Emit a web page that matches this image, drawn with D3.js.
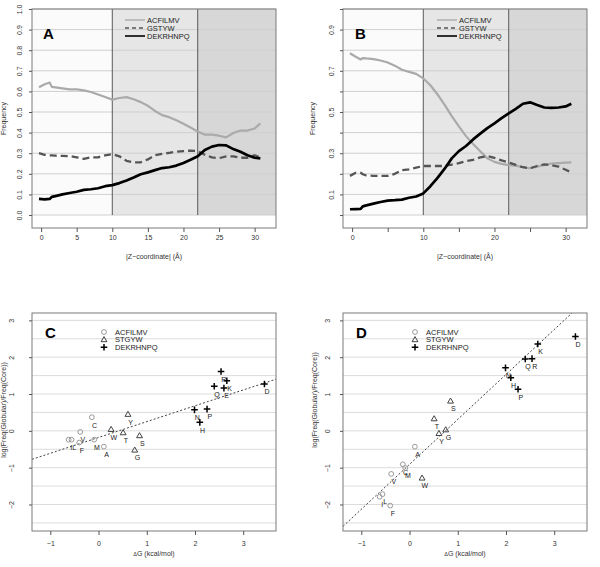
<!DOCTYPE html>
<html><head><meta charset="utf-8">
<script src="https://cdn.jsdelivr.net/npm/d3@7"></script>
<style>
body{margin:0;background:#fff;}
svg{display:block;font-family:"Liberation Sans",Arial,sans-serif;}
</style></head>
<body><svg id="c" width="600" height="567"></svg>
<script>
// ---------- DATA ----------
const zGrid = [-0.3,0.5,1.2,1.5,2,3,4,5,6,7,8,9,10,11,12,13,14,15,16,17,18,19,20,21,22,23,24,25,26,27,28,29,30,30.8];
const seriesNames = ["ACFILMV","GSTYW","DEKRHNPQ"];
const aACFILMV = [0.62,0.635,0.643,0.622,0.62,0.615,0.61,0.61,0.605,0.597,0.585,0.573,0.56,0.568,0.572,0.562,0.548,0.53,0.505,0.485,0.475,0.46,0.443,0.425,0.405,0.39,0.39,0.385,0.377,0.398,0.41,0.41,0.42,0.445];
const aGSTYW   = [0.30,0.292,0.29,0.29,0.288,0.287,0.286,0.28,0.273,0.28,0.28,0.29,0.296,0.285,0.263,0.256,0.256,0.27,0.29,0.297,0.302,0.307,0.31,0.313,0.31,0.293,0.28,0.276,0.285,0.285,0.278,0.278,0.29,0.28];
const aDEKRHNPQ= [0.078,0.076,0.078,0.088,0.092,0.1,0.107,0.113,0.122,0.125,0.13,0.14,0.145,0.155,0.168,0.182,0.198,0.207,0.218,0.228,0.232,0.24,0.253,0.268,0.285,0.316,0.332,0.34,0.338,0.32,0.307,0.29,0.278,0.275];
const bACFILMV = [0.785,0.768,0.755,0.762,0.76,0.757,0.75,0.74,0.725,0.705,0.695,0.685,0.663,0.63,0.585,0.535,0.48,0.43,0.383,0.345,0.31,0.275,0.258,0.248,0.242,0.24,0.232,0.227,0.235,0.243,0.25,0.252,0.254,0.256];
const bGSTYW   = [0.19,0.205,0.205,0.198,0.192,0.19,0.19,0.19,0.2,0.218,0.222,0.23,0.238,0.238,0.238,0.238,0.245,0.252,0.262,0.268,0.28,0.286,0.277,0.265,0.255,0.243,0.232,0.227,0.238,0.246,0.242,0.235,0.22,0.207];
const bDEKRHNPQ= [0.028,0.029,0.03,0.042,0.047,0.055,0.063,0.07,0.072,0.075,0.084,0.09,0.105,0.14,0.18,0.225,0.275,0.31,0.335,0.367,0.395,0.422,0.445,0.47,0.493,0.515,0.54,0.547,0.534,0.522,0.52,0.522,0.527,0.54];
const zoneBounds = [10,22];

const residues = ["A","C","F","I","L","M","V","G","S","T","W","Y","D","E","K","R","H","N","P","Q"];
const groups   = ["ACFILMV","ACFILMV","ACFILMV","ACFILMV","ACFILMV","ACFILMV","ACFILMV","STGYW","STGYW","STGYW","STGYW","STGYW","DEKRHNPQ","DEKRHNPQ","DEKRHNPQ","DEKRHNPQ","DEKRHNPQ","DEKRHNPQ","DEKRHNPQ","DEKRHNPQ"];
const deltaG   = [0.11,-0.14,-0.40,-0.62,-0.56,-0.09,-0.38,0.75,0.85,0.51,0.26,0.61,3.44,2.60,2.66,2.54,2.10,1.99,2.25,2.40];
const cLogRatio= [-0.43,0.37,-0.32,-0.24,-0.24,-0.24,-0.03,-0.52,-0.13,-0.05,0.04,0.45,1.27,1.16,1.36,1.61,0.23,0.57,0.59,1.21];
const dLogRatio= [-0.43,-0.91,-2.03,-1.79,-1.72,-1.01,-1.17,0.03,0.81,0.33,-1.28,-0.07,2.56,null,2.36,1.96,1.44,1.71,1.13,1.95];
const cFit = [-0.18,0.43];   // intercept, slope
const dFit = [-0.91,1.22];
const scatterLegend = ["ACFILMV","STGYW","DEKRHNPQ"];

// ---------- DRAW ----------
const svg = d3.select("#c");
const FONT = 7;
const boxStroke = "#7a7a7a";

function rotYLabels(axG, off){
  axG.selectAll(".tick text")
    .attr("x",0).attr("y",0).attr("dy","0.35em")
    .attr("text-anchor","middle")
    .attr("transform",`translate(${off},0) rotate(-90)`);
}
function styleAxis(axG){
  axG.select(".domain").remove();
  axG.selectAll(".tick line").attr("stroke","#555");
  axG.selectAll(".tick text").attr("fill","#333").style("font-size",FONT+"px");
}

function linePanel(opt){
  const {L,R,T,B,series,label,yLabelTicks,xLabelTicks} = opt;
  const x = d3.scaleLinear().domain([-1.28,33.0]).range([L,R]);
  const y = d3.scaleLinear().domain([-0.063,1.0]).range([B,T]);
  const g = svg.append("g");
  const bands = [[x.domain()[0],zoneBounds[0],"#fbfbfb"],[zoneBounds[0],zoneBounds[1],"#e6e6e6"],[zoneBounds[1],x.domain()[1],"#d7d7d7"]];
  g.selectAll("rect.band").data(bands).join("rect")
    .attr("x",d=>x(d[0])).attr("width",d=>x(d[1])-x(d[0]))
    .attr("y",y(1)).attr("height",y(0)-y(1)).attr("fill",d=>d[2]);
  const yt = d3.range(0,11).map(i=>i/10);
  g.selectAll("line.grid").data(yt).join("line")
    .attr("x1",L).attr("x2",R).attr("y1",d=>y(d)).attr("y2",d=>y(d))
    .attr("stroke","#cfcfcf").attr("stroke-width",1);
  g.selectAll("line.zone").data(zoneBounds).join("line")
    .attr("x1",d=>x(d)).attr("x2",d=>x(d)).attr("y1",y(1)).attr("y2",y(0))
    .attr("stroke","#5a5a5a").attr("stroke-width",1);
  const styles = [
    {c:"#aaaaaa",w:2.2,d:null},
    {c:"#555555",w:2.3,d:"7,4"},
    {c:"#000000",w:2.7,d:null}];
  const ln = d3.line().x((d,i)=>x(zGrid[i])).y(d=>y(d));
  series.forEach((s,k)=>{
    g.append("path").attr("d",ln(s)).attr("fill","none")
      .attr("stroke",styles[k].c).attr("stroke-width",styles[k].w)
      .attr("stroke-dasharray",styles[k].d).attr("stroke-linejoin","round");
  });
  g.append("rect").attr("x",L).attr("y",T).attr("width",R-L).attr("height",B-T)
    .attr("fill","none").attr("stroke",boxStroke);
  const ax = g.append("g").attr("transform",`translate(0,${B})`)
    .call(d3.axisBottom(x).tickValues(d3.range(0,31,5)).tickSize(4).tickPadding(3)
      .tickFormat(d=>xLabelTicks.includes(d)?d:""));
  styleAxis(ax);
  const ay = g.append("g").attr("transform",`translate(${L},0)`)
    .call(d3.axisLeft(y).tickValues(yt).tickSize(3)
      .tickFormat(d=>yLabelTicks.some(v=>Math.abs(v-d)<1e-9)?d3.format(".1f")(d):""));
  styleAxis(ay); rotYLabels(ay,opt.yOff);
  g.append("text").attr("x",(L+R)/2).attr("y",B+31).attr("text-anchor","middle")
    .style("font-size",FONT+"px").attr("fill","#333").text("|Z\u2212coordinate| (\u00C5)");
  g.append("text").attr("transform",`translate(${opt.yTitleX},${(T+B)/2}) rotate(-90)`)
    .attr("text-anchor","middle").attr("dy","0.35em").style("font-size",FONT+"px").attr("fill","#333").text("Frequency");
  g.append("text").attr("x",opt.letterX).attr("y",T+30).attr("font-weight","bold")
    .style("font-size","15px").text(label);
  const lg = g.append("g").attr("transform",`translate(${opt.legX},20)`);
  seriesNames.forEach((n,k)=>{
    lg.append("line").attr("x1",0).attr("x2",20).attr("y1",k*8).attr("y2",k*8)
      .attr("stroke",styles[k].c).attr("stroke-width",k==2?1.6:1.4).attr("stroke-dasharray",styles[k].d?"4,3":null);
    lg.append("text").attr("x",22).attr("y",k*8).attr("dy","0.35em")
      .style("font-size","7.5px").attr("fill","#222").text(n);
  });
}

function symbol(g,grp,cx,cy){
  if(grp==="ACFILMV"){
    g.append("circle").attr("cx",cx).attr("cy",cy).attr("r",2.4).attr("fill","none").attr("stroke","#9a9a9a").attr("stroke-width",1);
  } else if(grp==="STGYW"){
    g.append("path").attr("d",d3.symbol(d3.symbolTriangle,15)()).attr("transform",`translate(${cx},${cy+0.4})`)
      .attr("fill","none").attr("stroke","#444").attr("stroke-width",1);
  } else {
    g.append("path").attr("d",`M${cx-3.3},${cy}H${cx+3.3}M${cx},${cy-3.3}V${cy+3.3}`)
      .attr("stroke","#000").attr("stroke-width",1.5);
  }
}

function scatterPanel(opt){
  const {L,R,T,B,vals,fit,label} = opt;
  const x = d3.scaleLinear().domain([-1.38,3.68]).range([L,R]);
  const y = d3.scaleLinear().domain([-2.72,3.2]).range([B,T]);
  const g = svg.append("g");
  const clipId = "clip"+label;
  svg.append("clipPath").attr("id",clipId).append("rect").attr("x",L).attr("y",T).attr("width",R-L).attr("height",B-T);
  const gl = d3.range(-2.5,3.01,0.5);
  g.selectAll("line.grid").data(gl).join("line")
    .attr("x1",L).attr("x2",R).attr("y1",d=>y(d)).attr("y2",d=>y(d))
    .attr("stroke","#dcdcdc").attr("stroke-width",1);
  const xd = x.domain();
  g.append("line").attr("clip-path",`url(#${clipId})`)
    .attr("x1",x(xd[0])).attr("y1",y(fit[0]+fit[1]*xd[0]))
    .attr("x2",x(xd[1])).attr("y2",y(fit[0]+fit[1]*xd[1]))
    .attr("stroke","#444").attr("stroke-width",1).attr("stroke-dasharray","2,2");
  const pg = g.append("g");
  residues.forEach((r,i)=>{
    if(vals[i]===null) return;
    const cx=x(deltaG[i]), cy=y(vals[i]);
    symbol(pg,groups[i],cx,cy);
    pg.append("text").attr("x",cx+2.7).attr("y",cy+10.3).attr("text-anchor","middle")
      .style("font-size","7px").attr("fill","#222").text(r);
  });
  g.append("rect").attr("x",L).attr("y",T).attr("width",R-L).attr("height",B-T)
    .attr("fill","none").attr("stroke",boxStroke);
  const ax = g.append("g").attr("transform",`translate(0,${B})`)
    .call(d3.axisBottom(x).tickValues([-1,0,1,2,3]).tickSize(4).tickPadding(6)
      .tickFormat(d=>d<0?"\u2212"+Math.abs(d):d));
  styleAxis(ax);
  const ay = g.append("g").attr("transform",`translate(${L},0)`)
    .call(d3.axisLeft(y).tickValues([-2,-1,0,1,2,3]).tickSize(3)
      .tickFormat(d=>d<0?"\u2212"+Math.abs(d):d));
  styleAxis(ay); rotYLabels(ay,opt.yOff);
  const t = g.append("text").attr("x",(L+R)/2).attr("y",B+25).attr("text-anchor","middle")
    .style("font-size",FONT+"px").attr("fill","#333");
  t.append("tspan").style("font-size","5.5px").text("\u0394");
  t.append("tspan").text("G (kcal/mol)");
  g.append("text").attr("transform",`translate(${opt.yTitleX},${opt.yTitleY}) rotate(-90)`)
    .attr("text-anchor","middle").attr("dy","0.35em").style("font-size",FONT+"px").attr("fill","#333")
    .text("log(Freq(Globular)/Freq(Core))");
  g.append("text").attr("x",opt.letterX).attr("y",T+25).attr("font-weight","bold")
    .style("font-size","15px").text(label);
  const lg = g.append("g").attr("transform",`translate(${opt.legX},${T+19})`);
  scatterLegend.forEach((n,k)=>{
    symbol(lg,n,0,k*7.6);
    lg.append("text").attr("x",11).attr("y",k*7.6).attr("dy","0.35em")
      .style("font-size","7.5px").attr("fill","#222").text(n);
  });
}

linePanel({L:32,R:276,T:9,B:228,series:[aACFILMV,aGSTYW,aDEKRHNPQ],label:"A",
  yLabelTicks:d3.range(0,11).map(i=>i/10),xLabelTicks:[0,5,10,15,20,25,30],
  yOff:-12,yTitleX:4,letterX:43,legX:125});
linePanel({L:343,R:587,T:9,B:228,series:[bACFILMV,bGSTYW,bDEKRHNPQ],label:"B",
  yLabelTicks:[0.1,0.3,0.5,0.7,0.9],xLabelTicks:[0,10,20,30],
  yOff:-11,yTitleX:313,letterX:355,legX:437});
scatterPanel({L:32,R:276,T:313,B:531,vals:cLogRatio,fit:cFit,label:"C",
  yOff:-20,yTitleX:4,yTitleY:410,letterX:45,legX:104});
scatterPanel({L:343,R:587,T:313,B:531,vals:dLogRatio,fit:dFit,label:"D",
  yOff:-15,yTitleX:315,yTitleY:400,letterX:356,legX:415});
</script></body></html>
